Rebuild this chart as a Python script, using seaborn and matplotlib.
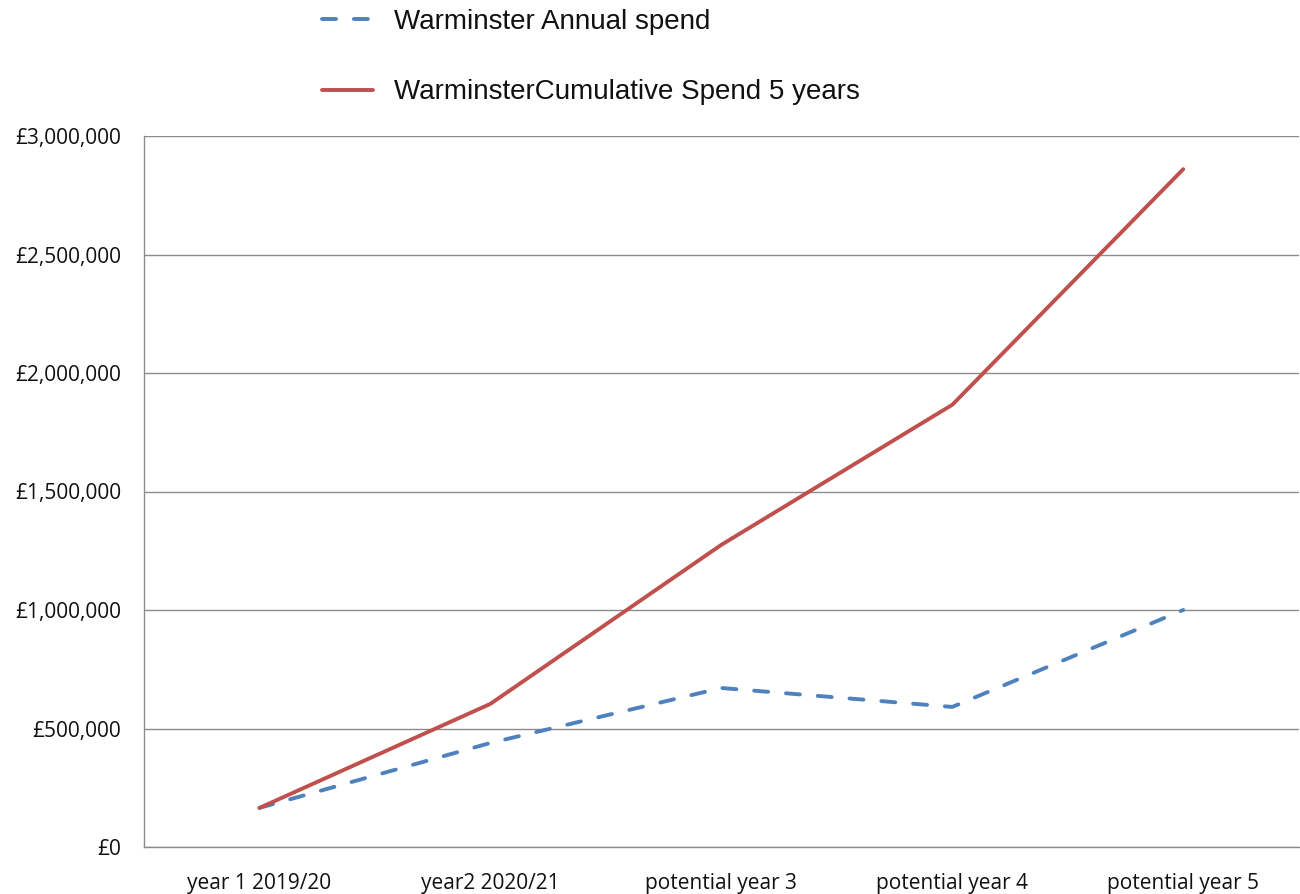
import pandas as pd
import seaborn as sns
import matplotlib.pyplot as plt
from matplotlib.ticker import FuncFormatter, FixedLocator

categories = ["year 1 2019/20", "year2 2020/21", "potential year 3",
              "potential year 4", "potential year 5"]
annual_spend = [165000, 439000, 671000, 591000, 1000000]
cumulative_spend = [165000, 604000, 1275000, 1866000, 2860000]

df = pd.DataFrame({
    "year": categories * 2,
    "spend": annual_spend + cumulative_spend,
    "series": ["Warminster Annual spend"] * 5 + ["WarminsterCumulative Spend 5 years"] * 5,
})

sns.set_style("white")
fig = plt.figure(figsize=(13, 8.94), dpi=100)
ax = fig.add_axes([144 / 1300, 1 - 847 / 894, 1 - 144 / 1300 - 0.001, (847 - 136) / 894])

annual = df[df["series"] == "Warminster Annual spend"]
cumul = df[df["series"] == "WarminsterCumulative Spend 5 years"]
sns.lineplot(data=annual, x="year", y="spend", ax=ax, color="#4F81BD",
             linewidth=2.8, linestyle=(0, (3.6, 4.6)), dash_capstyle="round",
             label="Warminster Annual spend")
sns.lineplot(data=cumul, x="year", y="spend", ax=ax, color="#C0504D",
             linewidth=2.8, solid_capstyle="round",
             label="WarminsterCumulative Spend 5 years")

ax.set_xlim(-0.5, 4.5)
ax.set_ylim(0, 3000000)
ax.set_yticks(range(0, 3000001, 500000))
ax.yaxis.set_major_formatter(FuncFormatter(lambda v, p: f"£{int(v):,}"))
ax.yaxis.grid(True, color="#8c8c8c", linewidth=1)
ax.set_axisbelow(True)

# category labels centred, tick marks on the boundaries
ax.set_xticks(range(len(categories)))
ax.set_xticklabels(categories)
ax.xaxis.set_minor_locator(FixedLocator([-0.5, 0.5, 1.5, 2.5, 3.5, 4.5]))
ax.tick_params(axis="x", which="major", length=0, pad=19)
ax.tick_params(axis="x", which="minor", length=4.5, color="#8c8c8c", width=1, direction="out")
ax.tick_params(axis="y", length=4.5, color="#8c8c8c", width=1, direction="out", pad=12)
for lbl in ax.get_xticklabels() + ax.get_yticklabels():
    lbl.set_family(["Open Sans", "DejaVu Sans"])
    lbl.set_fontsize(15)
    lbl.set_color("#111111")

for s in ["top", "right"]:
    ax.spines[s].set_visible(False)
for s in ["left", "bottom"]:
    ax.spines[s].set_color("#8c8c8c")
    ax.spines[s].set_linewidth(1)

ax.set_xlabel("")
ax.set_ylabel("")

leg = ax.legend(loc="upper left", bbox_to_anchor=(322 / 1300, 1 - 9 / 894), bbox_transform=fig.transFigure,
                frameon=False, borderpad=0, borderaxespad=0, handlelength=1.85, handletextpad=0.75,
                labelspacing=1.6, prop={"family": "Liberation Sans", "size": 20})
for t in leg.get_texts():
    t.set_color("#111111")

plt.savefig("out.png", dpi=100)
plt.close()
